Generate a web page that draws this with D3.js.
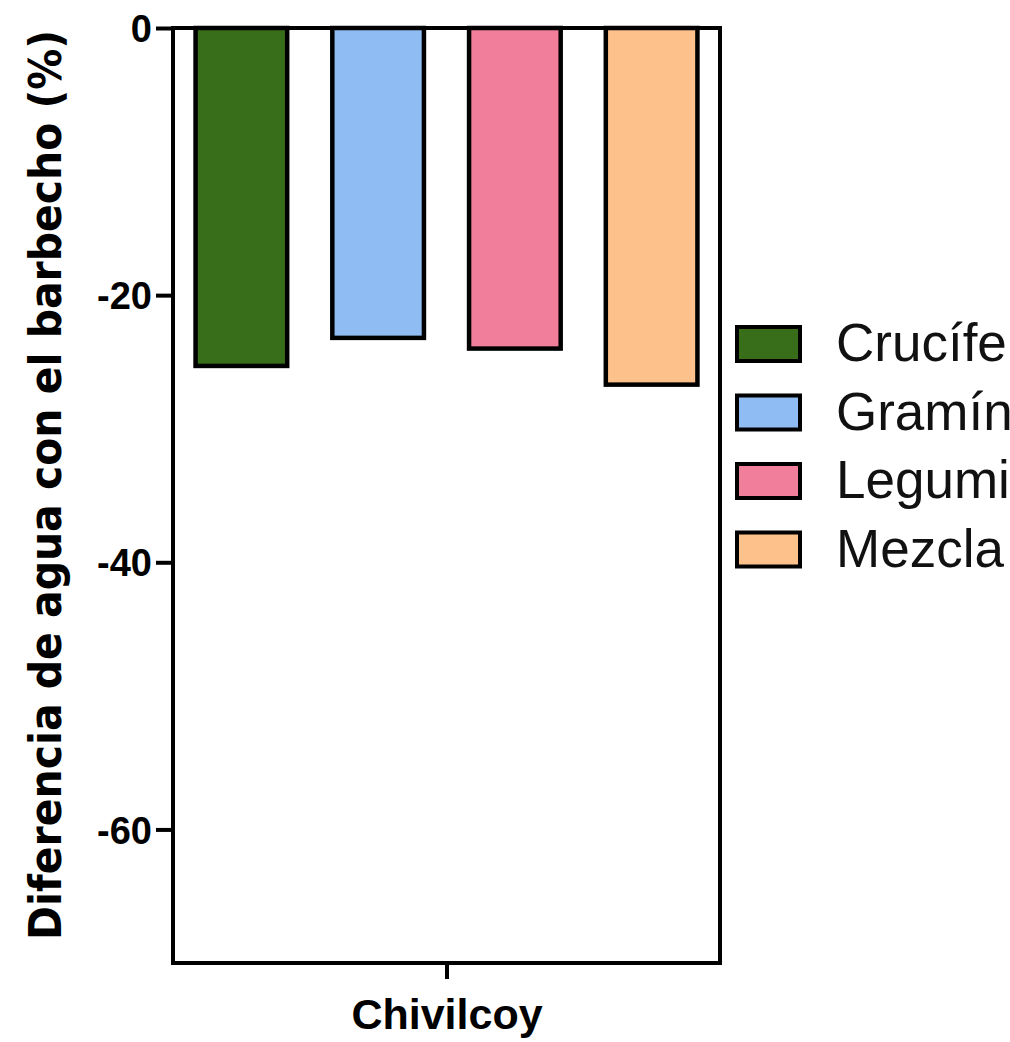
<!DOCTYPE html>
<html>
<head>
  <meta charset="utf-8">
  <style>
    body { margin: 0; background: #fff; }
  </style>
</head>
<body>
<script src="https://d3js.org/d3.v7.min.js"></script>
<script>
  // data
  var categories = ["Crucíferas", "Gramíneas", "Leguminosas", "Mezcla"];
  var values = [-25.3, -23.2, -24.0, -26.7];
  var colors = ["#386e1a", "#8fbcf2", "#f17f9b", "#fdc18b"];
  var yTicks = [0, -20, -40, -60];
  var groupLabel = "Chivilcoy";
  var yTitle = "Diferencia de agua con el barbecho (%)";

  var width = 1010, height = 1042;
  var plotLeft = 173, plotRight = 720, plotTop = 28, plotBottom = 963;

  var svg = d3.select("body").append("svg")
    .attr("width", width)
    .attr("height", height);

  svg.append("rect").attr("width", width).attr("height", height).attr("fill", "#fff");

  var x = d3.scaleBand().domain(categories).range([plotLeft, plotRight])
    .paddingInner(0.33).paddingOuter(0.165);
  var y = d3.scaleLinear().domain([-70, 0]).range([plotBottom, plotTop]);

  // bars hang down from zero
  svg.selectAll(".bar").data(values).enter().append("rect")
    .attr("class", "bar")
    .attr("x", function(d, i) { return x(categories[i]); })
    .attr("y", y(0))
    .attr("width", x.bandwidth())
    .attr("height", function(d) { return y(d) - y(0); })
    .attr("fill", function(d, i) { return colors[i]; })
    .attr("stroke", "#000")
    .attr("stroke-width", 4.5);

  // frame
  svg.append("rect")
    .attr("x", plotLeft).attr("y", plotTop)
    .attr("width", plotRight - plotLeft).attr("height", plotBottom - plotTop)
    .attr("fill", "none").attr("stroke", "#000").attr("stroke-width", 4);

  // y axis
  var yAxis = svg.append("g")
    .attr("transform", "translate(" + plotLeft + ",0)")
    .call(d3.axisLeft(y).tickValues(yTicks).tickSize(17).tickPadding(4).tickFormat(d3.format("d")));
  yAxis.select(".domain").remove();
  yAxis.selectAll("line").attr("stroke", "#000").attr("stroke-width", 4);
  yAxis.selectAll("text")
    .attr("font-family", "Liberation Sans, Arial, sans-serif")
    .attr("font-weight", "bold")
    .attr("font-size", 38)
    .attr("fill", "#000")
    .attr("dy", "0.36em")
    .text(function(d) { return String(d); });

  // x tick and group label
  var cx = 447;
  svg.append("line")
    .attr("x1", cx).attr("x2", cx)
    .attr("y1", plotBottom).attr("y2", plotBottom + 16)
    .attr("stroke", "#000").attr("stroke-width", 4);
  svg.append("text")
    .attr("x", cx).attr("y", 1029)
    .attr("text-anchor", "middle")
    .attr("font-family", "Liberation Sans, Arial, sans-serif")
    .attr("font-weight", "bold")
    .attr("font-size", 43)
    .text(groupLabel);

  // y title
  svg.append("text")
    .attr("transform", "translate(61,485) rotate(-90)")
    .attr("text-anchor", "middle")
    .attr("font-family", "Liberation Sans Narrow, DejaVu Sans Condensed, Arial, sans-serif")
    .attr("font-weight", "bold")
    .attr("font-size", 44)
    .attr("textLength", 910)
    .attr("lengthAdjust", "spacingAndGlyphs")
    .text(yTitle);

  // legend
  var lg = svg.append("g").selectAll("g").data(categories).enter().append("g")
    .attr("transform", function(d, i) { return "translate(737," + (327 + i * 68.5) + ")"; });
  lg.append("rect")
    .attr("width", 63).attr("height", 34)
    .attr("fill", function(d, i) { return colors[i]; })
    .attr("stroke", "#000").attr("stroke-width", 4);
  lg.append("text")
    .attr("x", 99).attr("y", 34)
    .attr("font-family", "Liberation Sans, Arial, sans-serif")
    .attr("font-size", 53)
    .attr("fill", "#111")
    .text(function(d) { return d; });
</script>
</body>
</html>
